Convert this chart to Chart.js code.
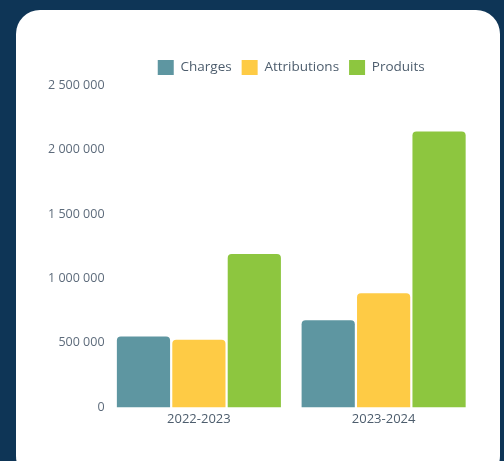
<!DOCTYPE html>
<html>
<head>
<meta charset="utf-8">
<script src="https://cdn.jsdelivr.net/npm/chart.js@4"></script>
<style>
    html, body { margin: 0; padding: 0; }
    body { width: 504px; height: 461px; background: #0e3556; position: relative; overflow: hidden; }
    .card { position: absolute; left: 16px; top: 10px; width: 484px; height: 470px; background: #fff; border-radius: 24px; }
    .wrap { position: absolute; left: 46px; top: 50px; width: 430px; height: 381px; }
</style>
</head>
<body>
<div class="card"></div>
<div class="wrap"><canvas id="budget"></canvas></div>
<script>
//données du graphique
const labels = ['2022-2023', '2023-2024'];
const charges = [550000, 675000];
const attributions = [525000, 885000];
const produits = [1190000, 2140000];

//séparateur de milliers avec espace
function formatNombre(v) {
    return String(v).replace(/\B(?=(\d{3})+(?!\d))/g, ' ');
}

const data = {
    labels: labels,
    datasets: [{
        label: 'Charges',
        backgroundColor: '#5e96a1',
        borderColor: '#5e96a1',
        data: charges,
    }, {
        label: 'Attributions',
        backgroundColor: '#fecb45',
        borderColor: '#fecb45',
        data: attributions,
    }, {
        label: 'Produits',
        backgroundColor: '#8dc63f',
        borderColor: '#8dc63f',
        data: produits,
    }]
};

const config = {
    type: 'bar',
    data: data,
    options: {
        responsive: true,
        maintainAspectRatio: false,
        animation: false,
        datasets: {
            bar: {
                categoryPercentage: 0.9,
                barPercentage: 0.96,
                borderRadius: { topLeft: 4, topRight: 4 },
                borderSkipped: 'bottom'
            }
        },
        plugins: {
            legend: {
                fullSize: false,
                labels: {
                    boxWidth: 16,
                    boxHeight: 15,
                    padding: 10,
                    color: '#4d5d6d',
                    font: { family: 'Open Sans', size: 13.5 }
                }
            },
            tooltip: { enabled: false }
        },
        scales: {
            x: {
                grid: { display: false, drawTicks: false },
                border: { display: false },
                ticks: { color: '#4d5d6d', font: { family: 'Open Sans', size: 13 }, padding: 4 }
            },
            y: {
                min: 0,
                max: 2500000,
                grid: { display: false, drawTicks: false },
                border: { display: false },
                ticks: {
                    stepSize: 500000,
                    color: '#5d6b7b',
                    padding: 2,
                    font: { family: 'Open Sans', size: 12.5 },
                    callback: function (v) { return formatNombre(v); }
                }
            }
        }
    }
};

const myChart = new Chart(document.getElementById('budget'), config);
</script>
</body>
</html>
